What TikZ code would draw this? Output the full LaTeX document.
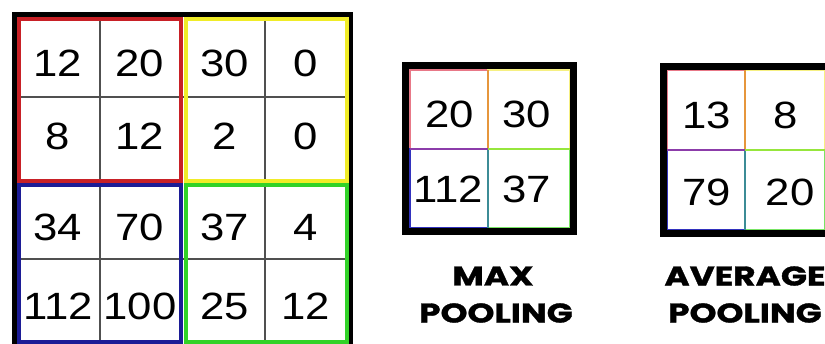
\documentclass[tikz,border=0pt]{standalone}
\usepackage{fontspec}
\setmainfont{Liberation Sans}
\newfontfamily\numfont[FakeStretch=1.15]{Liberation Sans}
\newfontfamily\labfont[FakeStretch=1.27, FakeBold=1.2]{Poppins}
\definecolor{qred}{RGB}{200,32,38}
\definecolor{qyellow}{RGB}{240,236,40}
\definecolor{qblue}{RGB}{28,28,150}
\definecolor{qgreen}{RGB}{50,210,40}
\definecolor{sred}{RGB}{232,120,135}
\definecolor{syellow}{RGB}{246,240,130}
\definecolor{sblue}{RGB}{50,50,190}
\definecolor{sgreen}{RGB}{120,228,100}
\definecolor{sorange}{RGB}{230,150,60}
\definecolor{spurple}{RGB}{140,60,170}
\definecolor{steal}{RGB}{60,140,150}
\definecolor{slime}{RGB}{150,230,60}
\definecolor{gline}{RGB}{80,80,80}
\begin{document}
\begin{tikzpicture}[x=1pt,y=-1pt,
  num/.style={font=\numfont\fontsize{38}{38}\selectfont, inner sep=0pt},
  lab/.style={font=\labfont\bfseries\fontsize{27}{27}\selectfont, inner sep=0pt},
  outer/.style={draw=black, line width=6pt},
  quad/.style={line width=4pt},
  thin/.style={draw=gline, line width=1.1pt},
  cellb/.style={line width=2pt}]
\useasboundingbox (0,0) rectangle (825,343);
\fill[white] (0,0) rectangle (825,343);
\begin{scope}
\clip (0,0) rectangle (825,343);
% ---------- big grid ----------
\draw[thin] (100,17) -- (100,343);
\draw[thin] (265,17) -- (265,343);
\draw[thin] (17,97) -- (348,97);
\draw[thin] (17,259) -- (348,259);
\draw[outer, line width=5pt] (14.5,14.5) rectangle (350,347);
\draw[quad, draw=qred] (19,19) rectangle (181,181);
\draw[quad, draw=qyellow] (186,19) rectangle (347,181);
\draw[quad, draw=qblue] (19,185) rectangle (181,342);
\draw[quad, draw=qgreen] (186,185) rectangle (347,342);
\node[num] (b11) at (58,63.5) {12};
\node[num] (b12) at (140,63.5) {20};
\node[num] (b13) at (225,63.5) {30};
\node[num] (b14) at (306,63.5) {0};
\node[num] (b21) at (58,136.5) {8};
\node[num] (b22) at (140,136.5) {12};
\node[num] (b23) at (225,136.5) {2};
\node[num] (b24) at (306,136.5) {0};
\node[num] (b31) at (58,227) {34};
\node[num] (b32) at (140,227) {70};
\node[num] (b33) at (225,227) {37};
\node[num] (b34) at (306,227) {4};
\node[num] (b41) at (58,306.5) {112};
\node[num] (b42) at (140,306.5) {100};
\node[num] (b43) at (225,306.5) {25};
\node[num] (b44) at (306,306.5) {12};
% ---------- max pooling ----------
\draw[cellb, draw=sred] (410,70) rectangle (488,149);
\draw[cellb, draw=syellow] (488,70) rectangle (570,149);
\draw[cellb, draw=sblue] (410,149) rectangle (488,228);
\draw[cellb, draw=sgreen] (488,149) rectangle (570,228);
\draw[cellb, draw=sorange] (488,70) -- (488,149);
\draw[cellb, draw=steal] (488,149) -- (488,228);
\draw[cellb, draw=spurple] (410,149) -- (488,149);
\draw[cellb, draw=slime] (488,149) -- (570,149);
\draw[outer, line width=7pt] (405.5,65.5) rectangle (573.5,231.5);
\node[num] (m11) at (450,114) {20};
\node[num] (m12) at (527,114) {30};
\node[num] (m21) at (448,189) {112};
\node[num] (m22) at (527,189) {37};
% ---------- average pooling ----------
\draw[cellb, draw=sred] (667,70) rectangle (745,150);
\draw[cellb, draw=syellow] (745,70) rectangle (825,150);
\draw[cellb, draw=sblue] (667,150) rectangle (745,230);
\draw[cellb, draw=sgreen] (745,150) rectangle (825,230);
\draw[cellb, draw=sorange] (745,70) -- (745,150);
\draw[cellb, draw=steal] (745,150) -- (745,230);
\draw[cellb, draw=spurple] (667,150) -- (745,150);
\draw[cellb, draw=slime] (745,150) -- (825,150);
\draw[outer, line width=7pt] (663.5,66.5) rectangle (829,233.5);
\node[num] (a11) at (707,115) {13};
\node[num] (a12) at (786,115) {8};
\node[num] (a21) at (707,192) {79};
\node[num] (a22) at (790,192) {20};
% ---------- labels ----------
\node[lab] (maxl) at (493,276) {MAX};
\node[lab] (maxp) at (496,313) {POOLING};
\node[lab] (avgl) at (745,276) {AVERAGE};
\node[lab] (avgp) at (745,313) {POOLING};
\end{scope}
\end{tikzpicture}
\end{document}
